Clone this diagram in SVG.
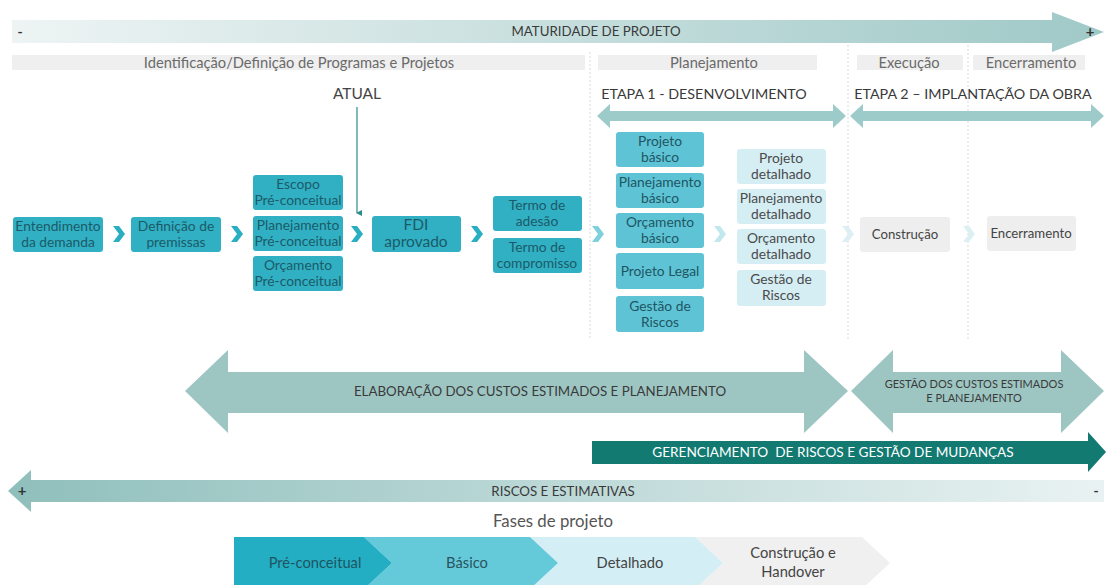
<svg xmlns="http://www.w3.org/2000/svg" width="1106" height="585" viewBox="0 0 1106 585">
<defs>
<linearGradient id="gTop" x1="0" x2="1" y1="0" y2="0"><stop offset="0" stop-color="#eef4f4"/><stop offset="1" stop-color="#9fc9c7"/></linearGradient>
<linearGradient id="gBot" x1="0" x2="1" y1="0" y2="0"><stop offset="0" stop-color="#8fbfbc"/><stop offset="1" stop-color="#e9f2f2"/></linearGradient>
<marker id="ah" markerWidth="6" markerHeight="6" refX="3" refY="5" orient="auto" markerUnits="userSpaceOnUse"><path d="M0,0 L6,0 L3,6 Z" fill="#2b8c8c"/></marker>
<style>
text{font-family:Lato,"Liberation Sans",sans-serif;text-anchor:middle}
.hdr{fill:#efefef}
.hdrt{font-size:14.7px;fill:#6a6a6a}
.lab{font-size:13.3px;fill:#3a3a3a}
.n1 rect{fill:#31b0c4}
.n1 text{font-size:13.8px;fill:#1c5a68}
.n2 rect{fill:#5ec4d5}
.n2 text{font-size:13.8px;fill:#1f5563}
.n3 rect{fill:#d5eef4}
.n3 text{font-size:13.8px;fill:#4a4a4a}
.n4 rect{fill:#eeeeee}
.n4 text{font-size:13.2px;fill:#444}
.div{stroke:#d9d9d9;stroke-width:1;stroke-dasharray:2,2}
.big{fill:#9dc6c3}
.etapa{fill:#9ccbc9}
.ph{font-size:14.7px}
</style>
</defs>
<rect width="1106" height="585" fill="#ffffff"/>

<!-- top maturity arrow -->
<path d="M12,20 H1052 V12 L1104,32 L1052,52 V43 H12 Z" fill="url(#gTop)"/>
<text x="20" y="37" style="font-size:14px;fill:#333;font-weight:bold">-</text>
<text x="596" y="36" class="lab">MATURIDADE DE PROJETO</text>
<text x="1090" y="37" style="font-size:15px;fill:#333;font-weight:bold">+</text>

<!-- header bars -->
<rect x="12" y="55" width="573" height="15" class="hdr"/>
<text x="299" y="67.5" class="hdrt">Identificação/Definição de Programas e Projetos</text>
<rect x="598" y="55" width="219" height="15" class="hdr"/>
<text x="714" y="67.5" class="hdrt">Planejamento</text>
<rect x="857" y="55" width="106" height="15" class="hdr"/>
<text x="909" y="67.5" class="hdrt">Execução</text>
<rect x="973" y="55" width="112" height="15" class="hdr"/>
<text x="1031" y="67.5" class="hdrt">Encerramento</text>

<!-- dividers -->
<line x1="590" y1="52" x2="590" y2="340" class="div"/>
<line x1="848" y1="45" x2="848" y2="340" class="div"/>
<line x1="968" y1="45" x2="968" y2="340" class="div"/>

<!-- ATUAL -->
<text x="357" y="99" style="font-size:15.5px;fill:#444">ATUAL</text>

<!-- ETAPA arrows -->
<text x="704" y="99" style="font-size:14.3px;fill:#3a3a3a">ETAPA 1 - DESENVOLVIMENTO</text>
<path d="M597,116 L610,104 V111 H833 V104 L846,116 L833,128 V121 H610 V128 Z" class="etapa"/>
<text x="973" y="99" style="font-size:14.3px;fill:#3a3a3a">ETAPA 2 – IMPLANTAÇÃO DA OBRA</text>
<path d="M850,116 L863,104 V111 H1091 V104 L1104,116 L1091,128 V121 H863 V128 Z" class="etapa"/>

<!-- nodes -->
<g id="n-entendimento" class="n1"><rect x="13" y="217" width="90" height="35" rx="3"/><text x="58" y="231">Entendimento</text><text x="58" y="247">da demanda</text></g>
<g id="n-definicao" class="n1"><rect x="131" y="217" width="90" height="35" rx="3"/><text x="176" y="231">Definição de</text><text x="176" y="247">premissas</text></g>
<g id="n-escopo" class="n1"><rect x="253" y="175" width="90" height="35" rx="3"/><text x="298" y="189">Escopo</text><text x="298" y="205">Pré-conceitual</text></g>
<g id="n-planpre" class="n1"><rect x="253" y="216" width="90" height="35" rx="3"/><text x="298" y="230">Planejamento</text><text x="298" y="246">Pré-conceitual</text></g>
<g id="n-orcpre" class="n1"><rect x="253" y="256" width="90" height="35" rx="3"/><text x="298" y="270">Orçamento</text><text x="298" y="286">Pré-conceitual</text></g>
<g id="n-fdi" class="n1"><rect x="372" y="216" width="89" height="36" rx="3"/><text x="416" y="230" style="font-size:15.5px">FDI</text><text x="416" y="247" style="font-size:15.5px">aprovado</text></g>
<g id="n-adesao" class="n1"><rect x="493" y="196" width="89" height="35" rx="3"/><text x="537" y="210">Termo de</text><text x="537" y="226">adesão</text></g>
<g id="n-compromisso" class="n1"><rect x="493" y="238" width="89" height="35" rx="3"/><text x="537" y="252">Termo de</text><text x="537" y="268">compromisso</text></g>

<g id="n-projbas" class="n2"><rect x="616" y="132" width="88" height="35" rx="3"/><text x="660" y="146">Projeto</text><text x="660" y="162">básico</text></g>
<g id="n-planbas" class="n2"><rect x="616" y="173" width="88" height="35" rx="3"/><text x="660" y="187">Planejamento</text><text x="660" y="203">básico</text></g>
<g id="n-orcbas" class="n2"><rect x="616" y="213" width="88" height="35" rx="3"/><text x="660" y="227">Orçamento</text><text x="660" y="243">básico</text></g>
<g id="n-legal" class="n2"><rect x="616" y="253" width="88" height="36" rx="3"/><text x="660" y="276">Projeto Legal</text></g>
<g id="n-riscbas" class="n2"><rect x="616" y="296" width="88" height="36" rx="3"/><text x="660" y="311">Gestão de</text><text x="660" y="327">Riscos</text></g>

<g id="n-projdet" class="n3"><rect x="737" y="149" width="89" height="35" rx="3"/><text x="781" y="163">Projeto</text><text x="781" y="179">detalhado</text></g>
<g id="n-plandet" class="n3"><rect x="737" y="189" width="89" height="35" rx="3"/><text x="781" y="203">Planejamento</text><text x="781" y="219">detalhado</text></g>
<g id="n-orcdet" class="n3"><rect x="737" y="229" width="89" height="35" rx="3"/><text x="781" y="243">Orçamento</text><text x="781" y="259">detalhado</text></g>
<g id="n-riscdet" class="n3"><rect x="737" y="270" width="89" height="36" rx="3"/><text x="781" y="284">Gestão de</text><text x="781" y="300">Riscos</text></g>

<g id="n-construcao" class="n4"><rect x="860" y="217" width="90" height="35" rx="3"/><text x="905" y="239">Construção</text></g>
<g id="n-encerramento" class="n4"><rect x="987" y="216" width="89" height="35" rx="3"/><text x="1031" y="238">Encerramento</text></g>

<!-- connectors -->
<g id="connectors">
<line x1="357" y1="107" x2="357" y2="213" stroke="#2b8c8c" stroke-width="1.2" marker-end="url(#ah)"/>
<polygon points="113,226 119,226 125,234 119,242 113,242 119,234" fill="#2aaec2"/>
<polygon points="231,226 237,226 243,234 237,242 231,242 237,234" fill="#2aaec2"/>
<polygon points="351,226 357,226 363,234 357,242 351,242 357,234" fill="#2aaec2"/>
<polygon points="471,226 477,226 483,234 477,242 471,242 477,234" fill="#2aaec2"/>
<polygon points="592,226 598,226 604,234 598,242 592,242 598,234" fill="#7ed0dc"/>
<polygon points="714,226 720,226 726,234 720,242 714,242 720,234" fill="#c2e7ee"/>
<polygon points="842,226 848,226 854,234 848,242 842,242 848,234" fill="#dcf0f4"/>
<polygon points="963,226 969,226 975,234 969,242 963,242 969,234" fill="#dcf0f4"/>
</g>

<!-- big arrows -->
<path d="M185,391 L228,350 V372 H804 V350 L848,391 L804,433 V413 H228 V433 Z" class="big"/>
<text x="540" y="396" class="lab">ELABORAÇÃO DOS CUSTOS ESTIMADOS E PLANEJAMENTO</text>
<path d="M851,391 L893,350 V372 H1061 V350 L1104,391 L1061,433 V413 H893 V433 Z" class="big"/>
<text x="974" y="388" style="font-size:11px;fill:#3a3a3a">GESTÃO DOS CUSTOS ESTIMADOS</text>
<text x="974" y="402" style="font-size:11px;fill:#3a3a3a">E PLANEJAMENTO</text>

<path d="M592,441 H1088 V432 L1106,452 L1088,472 V464 H592 Z" fill="#137a72"/>
<text x="833" y="457" xml:space="preserve" style="font-size:13.6px;fill:#ffffff">GERENCIAMENTO  DE RISCOS E GESTÃO DE MUDANÇAS</text>

<path d="M8,491 L31,470 V480 H1104 V502 H31 V512 Z" fill="url(#gBot)"/>
<text x="22" y="496" style="font-size:15px;fill:#333;font-weight:bold">+</text>
<text x="563" y="496" class="lab">RISCOS E ESTIMATIVAS</text>
<text x="1096" y="496" style="font-size:14px;fill:#333;font-weight:bold">-</text>

<text x="553" y="527" style="font-size:16.8px;fill:#555">Fases de projeto</text>

<!-- phase chevrons -->
<g id="phases">
<polygon points="695,537 862,537 890,563 862,589 695,589 723,563" fill="#f0f0f0"/>
<polygon points="530,537 695,537 723,563 695,589 530,589 558,563" fill="#d3eff5"/>
<polygon points="364,537 530,537 558,563 530,589 364,589 392,563" fill="#64c9d9"/>
<polygon points="234,537 364,537 392,563 364,589 234,589" fill="#23aec3"/>
<text x="315" y="568" class="ph" style="fill:#1f5563">Pré-conceitual</text>
<text x="467" y="568" class="ph" style="fill:#2a5560">Básico</text>
<text x="630" y="568" class="ph" style="fill:#444">Detalhado</text>
<text x="793" y="558" class="ph" style="fill:#444">Construção e</text>
<text x="793" y="577" class="ph" style="fill:#444">Handover</text>
</g>
</svg>
